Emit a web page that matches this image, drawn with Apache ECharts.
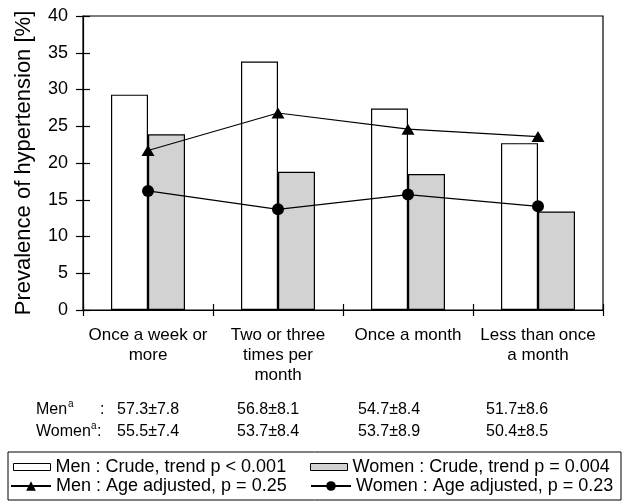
<!DOCTYPE html>
<html>
<head>
<meta charset="utf-8">
<script src="https://cdn.jsdelivr.net/npm/echarts@6/dist/echarts.min.js"></script>
<style>
html,body{margin:0;padding:0;background:#fff;}
#c{width:623px;height:503px;}
</style>
</head>
<body>
<div id="c"></div>
<script>
var categories = ['Once a week or\nmore', 'Two or three\ntimes per\nmonth', 'Once a month', 'Less than once\na month'];
var menCrude = [29.3, 33.8, 27.4, 22.7];
var womenCrude = [23.9, 18.8, 18.5, 13.4];
var menAdjusted = [21.7, 26.8, 24.6, 23.6];
var womenAdjusted = [16.2, 13.7, 15.7, 14.1];
var menAge = ['57.3±7.8', '56.8±8.1', '54.7±8.4', '51.7±8.6'];
var womenAge = ['55.5±7.4', '53.7±8.4', '53.7±8.9', '50.4±8.5'];
var seriesNames = ['Men : Crude, trend p < 0.001', 'Women : Crude, trend p = 0.004',
                   'Men : Age adjusted, p = 0.25', 'Women : Age adjusted, p = 0.23'];

var FONT = '"Liberation Sans", Arial, Helvetica, sans-serif';
var chart = echarts.init(document.getElementById('c'), null, {renderer: 'canvas'});

var ageColX = [117, 237, 358, 486];
var graphics = [
  {type: 'rect', shape: {x: 8, y: 452, width: 613, height: 48}, style: {fill: 'none', stroke: '#000', lineWidth: 1}, silent: true},
  {type: 'text', x: 36, y: 410, style: {text: 'Men', font: '16px ' + FONT, fill: '#000', verticalAlign: 'middle'}},
  {type: 'text', x: 68, y: 404, style: {text: 'a', font: '10px ' + FONT, fill: '#000', verticalAlign: 'middle'}},
  {type: 'text', x: 100, y: 410, style: {text: ':', font: '16px ' + FONT, fill: '#000', verticalAlign: 'middle'}},
  {type: 'text', x: 36, y: 432, style: {text: 'Women', font: '16px ' + FONT, fill: '#000', verticalAlign: 'middle'}},
  {type: 'text', x: 91, y: 426, style: {text: 'a', font: '10px ' + FONT, fill: '#000', verticalAlign: 'middle'}},
  {type: 'text', x: 97, y: 432, style: {text: ':', font: '16px ' + FONT, fill: '#000', verticalAlign: 'middle'}}
];
menAge.forEach(function (t, i) {
  graphics.push({type: 'text', x: ageColX[i], y: 410, style: {text: t, font: '16px ' + FONT, fill: '#000', verticalAlign: 'middle'}});
});
womenAge.forEach(function (t, i) {
  graphics.push({type: 'text', x: ageColX[i], y: 432, style: {text: t, font: '16px ' + FONT, fill: '#000', verticalAlign: 'middle'}});
});

function mkLegend(name, left, top, w, h, icon) {
  return {
    data: [{name: name, icon: icon}], left: left, top: top, itemWidth: w, itemHeight: h, itemGap: 0,
    padding: 0, selectedMode: false,
    itemStyle: icon ? {borderWidth: 1} : undefined,
    textStyle: {fontFamily: FONT, fontSize: 18, color: '#000', padding: [0, 0, 0, 0], lineHeight: 20}
  };
}

var option = {
  animation: false,
  textStyle: {fontFamily: FONT},
  grid: {left: 83, right: 20, top: 16, bottom: 193, show: true, borderColor: '#000', borderWidth: 1.2,
         backgroundColor: 'transparent', containLabel: false, outerBoundsMode: 'none'},
  legend: [
    mkLegend(seriesNames[0], 13, 457, 37, 7, 'rect'),
    mkLegend(seriesNames[1], 310, 457, 37, 7, 'rect'),
    mkLegend(seriesNames[2], 10, 476, 40, 12),
    mkLegend(seriesNames[3], 310, 476, 40, 12)
  ],
  xAxis: [{
    type: 'category', data: categories, position: 'bottom',
    axisLine: {show: true, lineStyle: {color: '#000', width: 1.2}},
    axisTick: {show: true, length: 6, lineStyle: {color: '#000', width: 1.2}},
    axisLabel: {color: '#000', fontSize: 17, fontFamily: FONT, lineHeight: 20, margin: 15, interval: 0},
    splitLine: {show: false}
  }, {
    type: 'category', data: categories, position: 'bottom',
    axisLine: {show: false},
    axisTick: {show: true, inside: true, length: 6, lineStyle: {color: '#000', width: 1.2}},
    axisLabel: {show: false}, splitLine: {show: false}
  }],
  yAxis: [{
    type: 'value', min: 0, max: 40, interval: 5,
    name: 'Prevalence of hypertension [%]', nameLocation: 'middle', nameGap: 48,
    nameTextStyle: {fontSize: 22, color: '#000', fontFamily: FONT},
    axisLine: {show: true, lineStyle: {color: '#000', width: 1.2}},
    axisTick: {show: true, length: 7, lineStyle: {color: '#000', width: 1.2}},
    axisLabel: {color: '#000', fontSize: 18, fontFamily: FONT, margin: 15},
    splitLine: {show: false}
  }, {
    type: 'value', min: 0, max: 40, interval: 5, position: 'left',
    axisLine: {show: false},
    axisTick: {show: true, inside: true, length: 7, lineStyle: {color: '#000', width: 1.2}},
    axisLabel: {show: false}, splitLine: {show: false}
  }],
  series: [{
    name: seriesNames[0], type: 'bar', data: menCrude, barWidth: 37, barGap: '0%',
    itemStyle: {color: '#fff', borderColor: '#000', borderWidth: 1.2}
  }, {
    name: seriesNames[1], type: 'bar', data: womenCrude, barWidth: 37, barGap: '0%',
    itemStyle: {color: '#d2d2d2', borderColor: '#000', borderWidth: 1.2}
  }, {
    name: seriesNames[2], type: 'line', data: menAdjusted, symbol: 'triangle', symbolSize: [13, 11],
    lineStyle: {color: '#000', width: 1.2}, itemStyle: {color: '#000'}, z: 5
  }, {
    name: seriesNames[3], type: 'line', data: womenAdjusted, symbol: 'circle', symbolSize: 12,
    lineStyle: {color: '#000', width: 1.2}, itemStyle: {color: '#000'}, z: 5
  }],
  graphic: graphics
};
chart.setOption(option);
</script>
</body>
</html>
